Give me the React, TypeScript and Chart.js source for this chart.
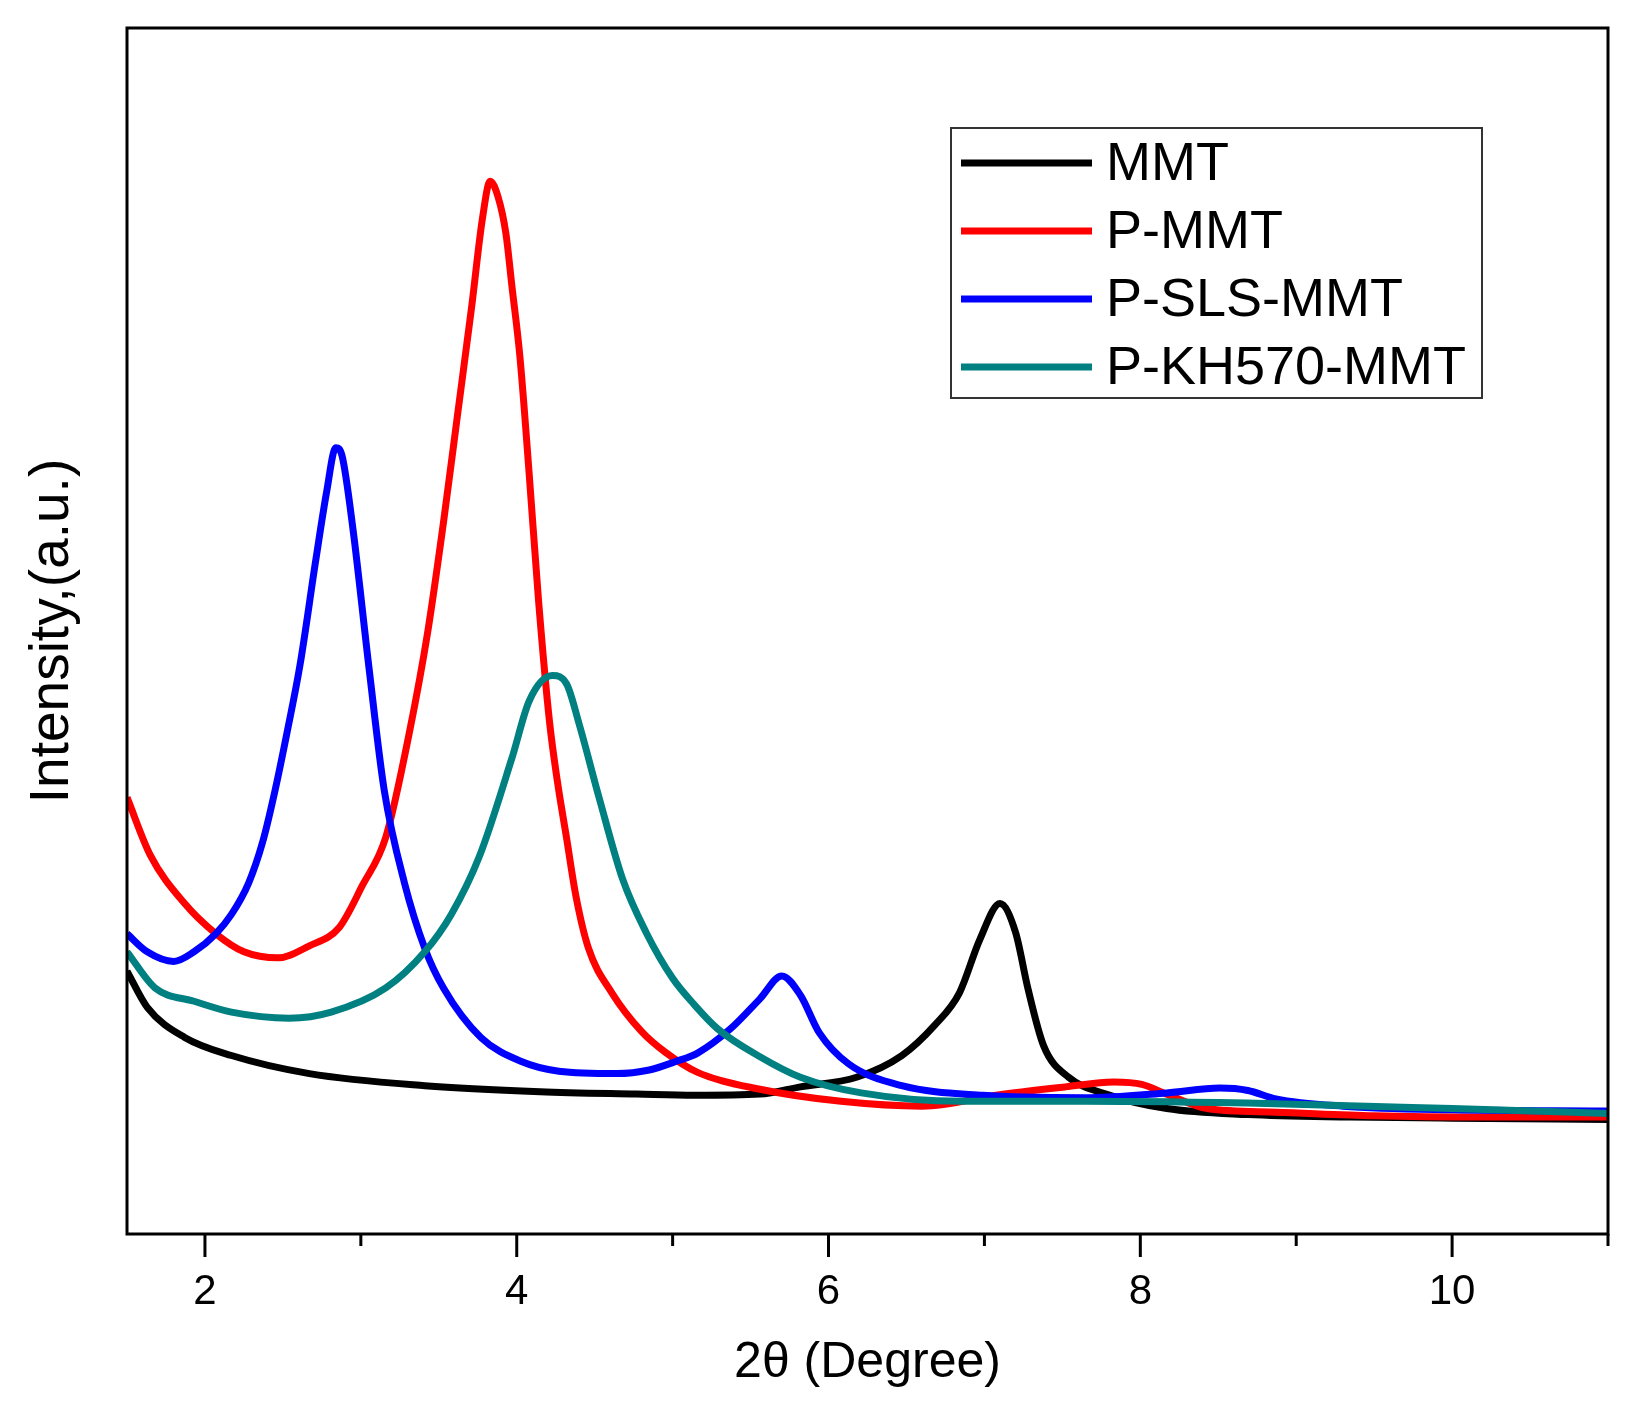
import { useEffect, useRef } from 'react'
import { Chart, registerables } from 'chart.js'

Chart.register(...registerables)

// 2θ positions and intensities (a.u.)
const mmtX = [1.5, 1.63, 1.87, 2.17, 2.67, 3.41, 4.15, 4.77, 5.14, 5.56, 5.82, 6.18, 6.47, 6.68, 6.84, 6.97, 7.1, 7.2, 7.28, 7.38, 7.54, 7.78, 8.17, 8.69, 9.35, 10, 11]
const mmtY = [218, 188, 163, 148, 133, 123, 118, 116, 115, 116, 122, 130, 148, 173, 200, 244, 274, 250, 203, 156, 130, 116, 104, 99, 97, 96, 95]

const pmmtX = [1.5, 1.65, 1.87, 2.07, 2.25, 2.47, 2.67, 2.86, 3.01, 3.16, 3.31, 3.43, 3.53, 3.62, 3.71, 3.78, 3.83, 3.88, 3.93, 3.97, 4.02, 4.08, 4.14, 4.21, 4.26, 4.32, 4.38, 4.46, 4.61, 4.8, 4.95, 5.16, 5.56, 6.08, 6.6, 7.12, 7.52, 7.83, 8.01, 8.17, 8.43, 8.87, 9.5, 10.2, 11]
const pmmtY = [362, 314, 274, 249, 234, 229, 239, 254, 289, 329, 415, 500, 590, 679, 768, 842, 873, 860, 830, 785, 728, 630, 525, 425, 376, 328, 280, 237, 200, 168, 151, 134, 120, 110, 106, 116, 122, 126, 124, 116, 104, 101, 98, 97, 97]

const pslsX = [1.5, 1.63, 1.8, 1.93, 2.07, 2.17, 2.28, 2.37, 2.45, 2.53, 2.61, 2.71, 2.78, 2.84, 2.88, 2.95, 3.05, 3.15, 3.28, 3.41, 3.53, 3.77, 4.03, 4.27, 4.64, 4.85, 5.02, 5.16, 5.37, 5.56, 5.7, 5.82, 5.94, 6.13, 6.47, 6.99, 7.64, 8.17, 8.51, 8.69, 8.87, 9.3, 10, 11]
const pslsY = [249, 234, 226, 234, 249, 265, 291, 325, 368, 418, 472, 558, 615, 652, 645, 584, 472, 368, 291, 237, 204, 163, 143, 135, 133, 136, 143, 150, 170, 195, 214, 198, 167, 141, 123, 115, 113, 117, 121, 119, 112, 106, 103, 102]

const pkhX = [1.5, 1.68, 1.93, 2.17, 2.54, 2.81, 3.16, 3.41, 3.58, 3.76, 3.97, 4.08, 4.23, 4.32, 4.4, 4.53, 4.68, 4.83, 5.0, 5.14, 5.29, 5.56, 5.82, 6.21, 6.86, 7.64, 8.87, 10, 11]
const pkhY = [234, 204, 193, 184, 179, 184, 204, 234, 265, 313, 395, 442, 463, 456, 423, 361, 294, 250, 212, 190, 170, 147, 130, 117, 110, 110, 108, 104, 100]

const tickValues = [2, 3, 4, 5, 6, 7, 8, 9, 10, 11]

const seriesNames = ['MMT', 'P-MMT', 'P-SLS-MMT', 'P-KH570-MMT']
const seriesColors = ['#000000', '#ff0000', '#0000ff', '#008080']

const FONT = "'Liberation Sans', Arial, Helvetica, sans-serif"

const zip = (xs: number[], ys: number[]) => xs.map((x, i) => ({ x, y: ys[i] }))

// box frame, outward x ticks (long at even, short at odd) and the inset legend
const framePlugin = {
  id: 'frame',
  afterDraw(chart: any) {
    const { ctx, chartArea: a } = chart
    const x = chart.scales.x
    ctx.save()
    ctx.strokeStyle = '#000'
    ctx.lineWidth = 3
    ctx.strokeRect(a.left, a.top, a.right - a.left, a.bottom - a.top)
    x.ticks.forEach((t: any) => {
      const px = x.getPixelForValue(t.value)
      const len = t.value % 2 === 0 ? 23 : 12
      ctx.beginPath()
      ctx.moveTo(px, a.bottom)
      ctx.lineTo(px, a.bottom + len)
      ctx.stroke()
    })

    // legend
    const lx = a.left + 824
    const ly = a.top + 100
    ctx.strokeStyle = '#333'
    ctx.lineWidth = 2
    ctx.fillStyle = '#fff'
    ctx.fillRect(lx, ly, 531, 270)
    ctx.strokeRect(lx, ly, 531, 270)
    ctx.font = `54px ${FONT}`
    ctx.textBaseline = 'middle'
    seriesNames.forEach((name, i) => {
      const y = ly + 35 + i * 68
      ctx.strokeStyle = seriesColors[i]
      ctx.lineWidth = 7
      ctx.beginPath()
      ctx.moveTo(lx + 10, y)
      ctx.lineTo(lx + 141, y)
      ctx.stroke()
      ctx.fillStyle = '#000'
      ctx.fillText(name, lx + 155, y + 2)
    })
    ctx.restore()
  },
}

export default function App() {
  const canvasRef = useRef<HTMLCanvasElement>(null)

  useEffect(() => {
    if (!canvasRef.current) return
    const data = [zip(mmtX, mmtY), zip(pmmtX, pmmtY), zip(pslsX, pslsY), zip(pkhX, pkhY)]

    const chart = new Chart(canvasRef.current, {
      type: 'line',
      data: {
        datasets: seriesNames.map((name, i) => ({
          label: name,
          data: data[i],
          borderColor: seriesColors[i],
          backgroundColor: seriesColors[i],
          borderWidth: 7,
          pointRadius: 0,
          cubicInterpolationMode: 'monotone' as const,
          order: 4 - i,
        })),
      },
      options: {
        animation: false,
        responsive: true,
        maintainAspectRatio: false,
        devicePixelRatio: 1,
        layout: { padding: { top: 28, right: 22, left: 0, bottom: 0 } },
        plugins: { legend: { display: false }, tooltip: { enabled: false } },
        scales: {
          x: {
            type: 'linear',
            min: 1.5,
            max: 11,
            grid: { display: false },
            border: { display: false },
            afterBuildTicks: (s: any) => { s.ticks = tickValues.map((v) => ({ value: v })) },
            ticks: {
              autoSkip: false,
              maxRotation: 0,
              color: '#000',
              padding: 25,
              font: { size: 42, family: FONT },
              callback: (v: any) => (Number(v) % 2 === 0 ? String(v) : ''),
            },
            title: {
              display: true,
              text: '2θ (Degree)',
              color: '#000',
              font: { size: 50, family: FONT },
              padding: { top: 0, bottom: 18 },
            },
            afterFit: (s: any) => { s.height = 177 },
          },
          y: {
            min: 0,
            max: 1000,
            grid: { display: false },
            border: { display: false },
            ticks: { display: false },
            title: {
              display: true,
              text: 'Intensity,(a.u.)',
              color: '#000',
              font: { size: 55, family: FONT },
              padding: { top: 20, bottom: 0 },
            },
            afterFit: (s: any) => { s.width = 127 },
          },
        },
      },
      plugins: [framePlugin],
    })

    return () => { chart.destroy() }
  }, [])

  return (
    <div style={{ position: 'absolute', left: 0, top: 0, width: 1633, height: 1411, background: '#fff' }}>
      <canvas ref={canvasRef} />
    </div>
  )
}
